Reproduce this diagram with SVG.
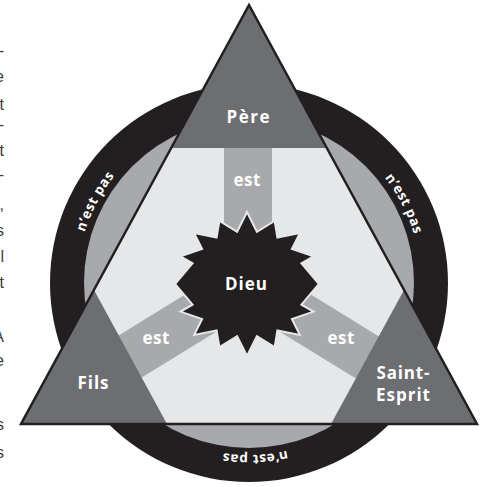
<svg xmlns="http://www.w3.org/2000/svg" width="481" height="487" viewBox="0 0 481 487">
<style>
.lbl{font-family:"Open Sans","DejaVu Sans",sans-serif;font-weight:700;font-size:17px;fill:#ffffff;text-anchor:middle}
.ring{font-family:"Open Sans","DejaVu Sans",sans-serif;font-weight:700;font-size:13.5px;fill:#ffffff;letter-spacing:0.6px;text-anchor:middle}
.frag{font-family:"Liberation Sans",sans-serif;font-size:16px;fill:#3a3a3c;text-anchor:end}
.band{fill:#a7a9ac}
.corner{fill:#6d6e71}
</style>
<defs>
<path id="ringpath" d="M 421,283 A 172 172 0 1 1 77,283 A 172 172 0 1 1 421,283"/>
</defs>
<g id="fragments">
<text class="frag" x="4" y="56">-</text>
<text class="frag" x="4" y="82">e</text>
<text class="frag" x="4" y="110">t</text>
<text class="frag" x="4" y="130">-</text>
<text class="frag" x="4" y="156">t</text>
<text class="frag" x="4" y="180">-</text>
<text class="frag" x="4" y="210">,</text>
<text class="frag" x="4" y="236">s</text>
<text class="frag" x="4" y="262">l</text>
<text class="frag" x="4" y="288">t</text>
<text class="frag" x="4" y="342">A</text>
<text class="frag" x="4" y="366">e</text>
<text class="frag" x="4" y="430">s</text>
<text class="frag" x="4" y="458">s</text>
</g>
<g id="ring">
<circle cx="249" cy="283" r="199" fill="#231f20"/>
<circle cx="249" cy="283" r="165" fill="#a7a9ac"/>
<text class="ring"><textPath href="#ringpath" startOffset="624">n’est pas</textPath></text>
<text class="ring"><textPath href="#ringpath" startOffset="999">n’est pas</textPath></text>
<text class="ring"><textPath href="#ringpath" startOffset="264">n’est pas</textPath></text>
</g>
<g id="triangle">
<polygon points="249,5 21,424 477,424" fill="#e6e7e8"/>
</g>
<g id="connectors">
<rect class="band" x="224" y="140" width="48" height="144"/>
<rect class="band" x="-24" y="-150" width="48" height="150" transform="translate(248,284) rotate(-121.6)"/>
<rect class="band" x="-24" y="-150" width="48" height="150" transform="translate(248,284) rotate(121.6)"/>
<text class="lbl" x="247" y="186" textLength="27">est</text>
<text class="lbl" x="156" y="344" textLength="27">est</text>
<text class="lbl" x="341" y="344" textLength="27">est</text>
</g>
<g id="pere">
<polygon class="corner" points="249,5 171.2,148 326.8,148"/>
<text class="lbl" x="248" y="123" textLength="43">Père</text>
</g>
<g id="fils">
<polygon class="corner" points="21,424 167,424 94,290"/>
<text class="lbl" x="93" y="389" textLength="31">Fils</text>
</g>
<g id="saint-esprit">
<polygon class="corner" points="477,424 331,424 404,290"/>
<text class="lbl" x="403" y="379" textLength="53">Saint-</text>
<text class="lbl" x="403" y="401" textLength="54">Esprit</text>
</g>
<polygon points="249,5 21,424 477,424" fill="none" stroke="#231f20" stroke-width="2.5"/>
<g id="dieu">
<polygon id="star" fill="#231f20" stroke="#e6e7e8" stroke-width="2" points="319.0,284.0 301.4,304.7 313.5,311.6 291.9,319.0 299.8,334.9 277.4,330.4 274.6,347.2 256.9,336.2 247.0,356.0 237.1,336.2 219.4,347.2 216.6,330.4 194.2,334.9 202.1,319.0 180.5,311.6 192.6,304.7 175.0,284.0 192.6,263.3 180.5,256.4 202.1,249.0 194.2,233.1 216.6,237.6 219.4,220.8 237.1,231.8 247.0,212.0 256.9,231.8 274.6,220.8 277.4,237.6 299.8,233.1 291.9,249.0 313.5,256.4 301.4,263.3"/>
<text class="lbl" x="246" y="290" textLength="42">Dieu</text>
</g>
</svg>
